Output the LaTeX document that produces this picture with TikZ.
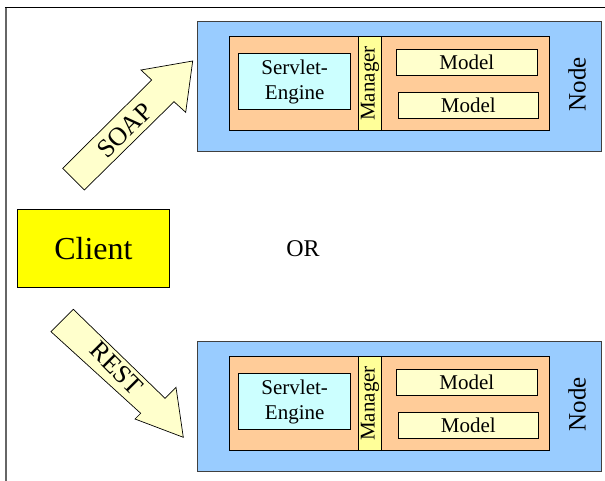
\documentclass[tikz,border=0pt]{standalone}
\usepackage{fontspec}
\setmainfont{Liberation Serif}
\newfontfamily\tnr{Liberation Serif}
\definecolor{nodeblue}{RGB}{153,204,255}
\definecolor{salmon}{RGB}{255,204,153}
\definecolor{engcyan}{RGB}{204,255,255}
\definecolor{mgryellow}{RGB}{255,255,153}
\definecolor{paleyellow}{RGB}{255,255,204}
\definecolor{clientyellow}{RGB}{255,255,0}
\begin{document}
\begin{tikzpicture}[x=1pt,y=-1pt,
  cornerbox/.style={draw=black, line width=0.8pt, inner sep=0pt, anchor=north west},
  label21/.style={font=\tnr\fontsize{21}{25}\selectfont, inner sep=0pt},
  big/.style={font=\tnr\fontsize{#1}{#1}\selectfont, inner sep=0pt},
  blockarrow/.style={draw=black, line width=0.7pt, fill=paleyellow, line join=miter}]
  \useasboundingbox (0,0) rectangle (605,481);

  % outer frame (top and left edges)
  \draw[line width=1pt, black] (5,8) -- (605,8);
  \draw[line width=1.6pt, black!60] (6,8) -- (6,481);

  % the two server nodes
  \foreach \k/\dy in {a/0,b/320}{
    \node[cornerbox, draw=black!75, fill=nodeblue, minimum width=404pt, minimum height=130pt]
      (node-\k) at (197,{21+\dy}) {};
    \node[cornerbox, fill=salmon, minimum width=319.7pt, minimum height=94pt]
      (cont-\k) at (229.3,{36+\dy}) {};
    \node[cornerbox, fill=engcyan, minimum width=112pt, minimum height=56pt,
          label21, align=center]
      (engine-\k) at (238.3,{53.3+\dy}) {Servlet-\\Engine};
    \node[cornerbox, fill=mgryellow, minimum width=22.7pt, minimum height=94pt]
      (mgr-\k) at (358.3,{36+\dy}) {};
    \node[label21, rotate=90] (mgrtext-\k) at (mgr-\k.center) {Manager};
    \node[cornerbox, fill=paleyellow, minimum width=140.7pt, minimum height=26pt, label21]
      (modelA-\k) at (396,{49.3+\dy}) {Model};
    \node[cornerbox, fill=paleyellow, minimum width=139.7pt, minimum height=26.6pt, label21]
      (modelB-\k) at (398,{91.7+\dy}) {Model};
    \node[rotate=90, big=25] (nodetext-\k) at (577,{84+\dy}) {Node};
  }

  % client
  \node[cornerbox, fill=clientyellow, minimum width=152.6pt, minimum height=78.3pt,
        font=\tnr\fontsize{32}{36}\selectfont]
    (client) at (16.7,209) {Client};

  \node[big=24] (or) at (303,249) {OR};

  % SOAP block arrow towards the upper node
  \draw[blockarrow] (62.7,168.3) -- (151.7,80) -- (141,70) -- (192.7,61)
    -- (185.7,112.3) -- (174,101.7) -- (84.3,190) -- cycle;
  \node[rotate=45, big=26] (soap) at (125,130.5) {SOAP};

  % REST block arrow towards the lower node
  \draw[blockarrow] (73.3,309.3) -- (165,398.3) -- (176,387.3) -- (183.3,437.3)
    -- (135,419) -- (140.7,413.3) -- (51,331.7) -- cycle;
  \node[rotate=-45, big=26] (rest) at (116.7,368.3) {REST};
\end{tikzpicture}
\end{document}
